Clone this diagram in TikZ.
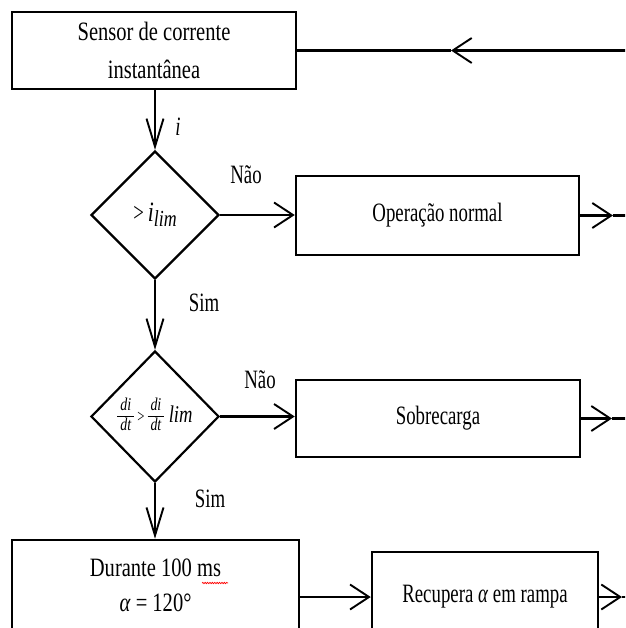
\documentclass[tikz,border=0pt]{standalone}
\usepackage{fontspec}
\setmainfont{Liberation Serif}[FakeStretch=0.71]
\newfontfamily\widefont{Liberation Serif}[FakeStretch=0.775]
\usetikzlibrary{shapes.geometric,arrows.meta,decorations.pathmorphing}
\newcommand\myfracfont{\widefont\fontsize{18}{19}\selectfont\itshape}
\newcommand\myfrac[2]{\ensuremath{\vcenter{\hbox{\myfracfont\setlength{\arrayrulewidth}{1pt}\renewcommand{\arraystretch}{1.05}\begin{tabular}{@{\,}c@{\,}}#1\\\hline #2\end{tabular}}}}}
\begin{document}
\begin{tikzpicture}[x=1pt,y=-1pt,
  box/.style={draw, line width=2.5pt, rectangle, inner sep=0pt, align=center, font=\fontsize{26.5}{30}\selectfont},
  dec/.style={draw, line width=2.2pt, diamond, inner sep=0pt, aspect=1, font=\fontsize{26.5}{30}\selectfont},
  conn/.style={line width=2.2pt},
  harr/.style={conn, -{Straight Barb[length=19pt,width=25pt,line width=1.9pt]}},
  varr/.style={conn, -{Straight Barb[length=28pt,width=17pt,line width=1.9pt]}},
  lbl/.style={inner sep=0pt, font=\fontsize{26.5}{30}\selectfont}]
\useasboundingbox (0,0) rectangle (625,628);
\clip (0,0) rectangle (625,628);

% boxes and decisions
\node[box, minimum width=284pt, minimum height=77pt, font=\widefont\fontsize{26.5}{38}\selectfont] (sensor) at (154,50.5) {Sensor de corrente\\instantânea};
\node[dec, minimum width=128pt, minimum height=128pt] (d1) at (155,215)
  {\raisebox{-4pt}{\textgreater\hspace{4pt}{\widefont\fontsize{28}{28}\selectfont\textit{i}}\raisebox{-5pt}{\widefont\fontsize{23}{23}\selectfont\textit{lim}}}};
\node[box, minimum width=283pt, minimum height=79pt] (op) at (437.5,215.5) {Operação normal};
\node[dec, minimum width=128pt, minimum height=131pt] (d2) at (155,416.5)
  {\myfrac{di}{dt}\hbox{\fontsize{18}{18}\selectfont\,\textgreater\,}\myfrac{di}{dt}\,{\widefont\fontsize{24}{24}\selectfont\textit{lim}}};
\node[box, minimum width=284pt, minimum height=77pt] (sob) at (438,418.5) {Sobrecarga};
\node[box, minimum width=287pt, minimum height=91pt, font=\widefont\fontsize{26.5}{35}\selectfont] (dur) at (155.5,585.5) {Durante 100 ms\\\textit{α} = 120°};
\node[box, minimum width=226pt, minimum height=90pt] (rec) at (485,597) {Recupera \textit{α} em rampa};

% labels
\node[lbl] (li) at (178,127) {\textit{i}};
\node[lbl] (n1) at (246,175) {Não};
\node[lbl] (s1) at (204,303) {Sim};
\node[lbl] (n2) at (260,380) {Não};
\node[lbl] (s2) at (210,499) {Sim};

% connectors
\coordinate (topR) at (627,50.5);
\coordinate (topM) at (451,50.5);
\draw[harr] (topR) -- (topM);
\draw[conn] (topM) -- (sensor.east);

\draw[varr] (sensor.south -| d1.north) -- (d1.north);
\draw[harr] (d1.east) -- (d1.east -| op.west);
\coordinate (opA) at (613,215.5);
\coordinate (opR) at (627,215.5);
\draw[harr] (op.east) -- (opA);
\draw[conn] (opA) -- (opR);

\draw[varr] (d1.south) -- (d2.north);
\draw[harr] (d2.east) -- (d2.east -| sob.west);
\coordinate (sobA) at (612,418.5);
\coordinate (sobR) at (627,418.5);
\draw[harr] (sob.east) -- (sobA);
\draw[conn] (sobA) -- (sobR);

\draw[varr] (d2.south) -- (d2.south |- dur.north);
\draw[harr] (dur.east |- rec.west) -- (rec.west);
\coordinate (recA) at (622,597);
\coordinate (recR) at (627,597);
\draw[harr] (rec.east) -- (recA);
\draw[conn] (recA) -- (recR);

% spell-check squiggle under "ms"
\draw[red, line width=0.7pt, decorate, decoration={snake, amplitude=0.7pt, segment length=2.4pt}] (202,583) -- (228,583);
\end{tikzpicture}
\end{document}
